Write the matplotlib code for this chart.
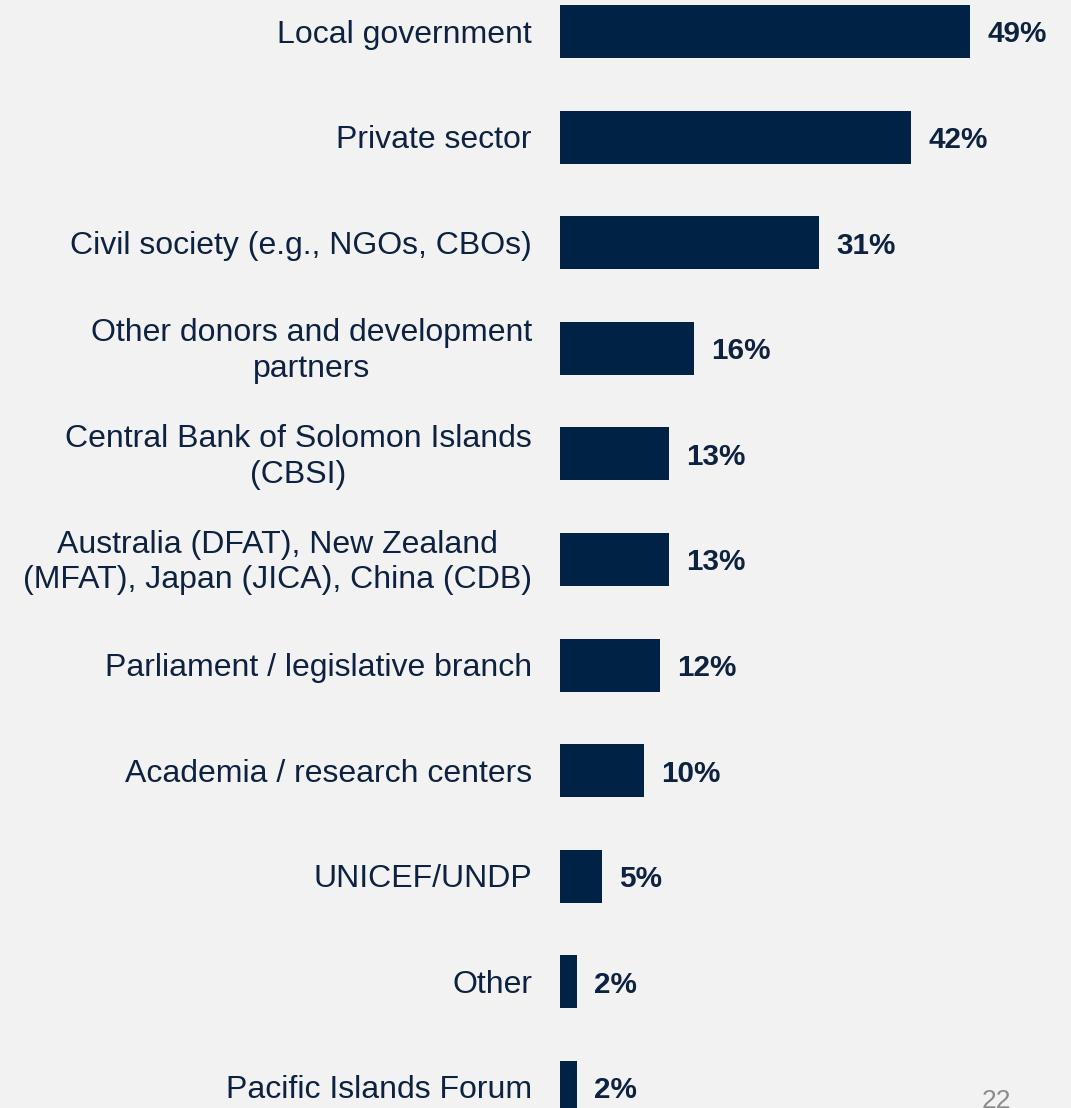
import matplotlib
matplotlib.use("Agg")
import matplotlib.pyplot as plt

categories = [
    "Local government",
    "Private sector",
    "Civil society (e.g., NGOs, CBOs)",
    "Other donors and development\npartners",
    "Central Bank of Solomon Islands\n(CBSI)",
    "Australia (DFAT), New Zealand\n(MFAT), Japan (JICA), China (CDB)",
    "Parliament / legislative branch",
    "Academia / research centers",
    "UNICEF/UNDP",
    "Other",
    "Pacific Islands Forum",
]
values = [49, 42, 31, 16, 13, 13, 12, 10, 5, 2, 2]
page_number = "22"

W, H = 1071, 1108
bg = "#F2F2F2"
bar_color = "#002245"
text_color = "#0D2240"

plt.rcParams['font.family'] = ['Liberation Sans', 'DejaVu Sans']

fig = plt.figure(figsize=(W / 100, H / 100), dpi=100, facecolor=bg)
x0 = 560 / W
ax = fig.add_axes([x0, 0, 1 - x0, 1])
ax.set_facecolor(bg)
px_per_unit = 410 / 49
ax.set_xlim(0, (W - 560) / px_per_unit)
row = 105.6
ax.set_ylim((H - 31.5) / row, -31.5 / row)

ys = list(range(len(categories)))
ax.barh(ys, values, height=53 / row, color=bar_color, edgecolor='none')
dy = 3 / row
for y, v, c in zip(ys, values, categories):
    ax.text(v + 17 / px_per_unit, y + dy, f"{v}%", va='center', ha='left',
            fontsize=21.3, fontweight='bold', color=text_color)
    ax.text(-28 / px_per_unit, y + dy, c, va='center', ha='right', multialignment='center',
            fontsize=23, color=text_color, clip_on=False, linespacing=1.25)
ax.axis('off')

fig.text(996 / W, 1 - 1101 / H, page_number, ha='center', va='center',
         fontsize=19, color='#8C8C8C')

fig.savefig("out.png", dpi=100, facecolor=bg)
